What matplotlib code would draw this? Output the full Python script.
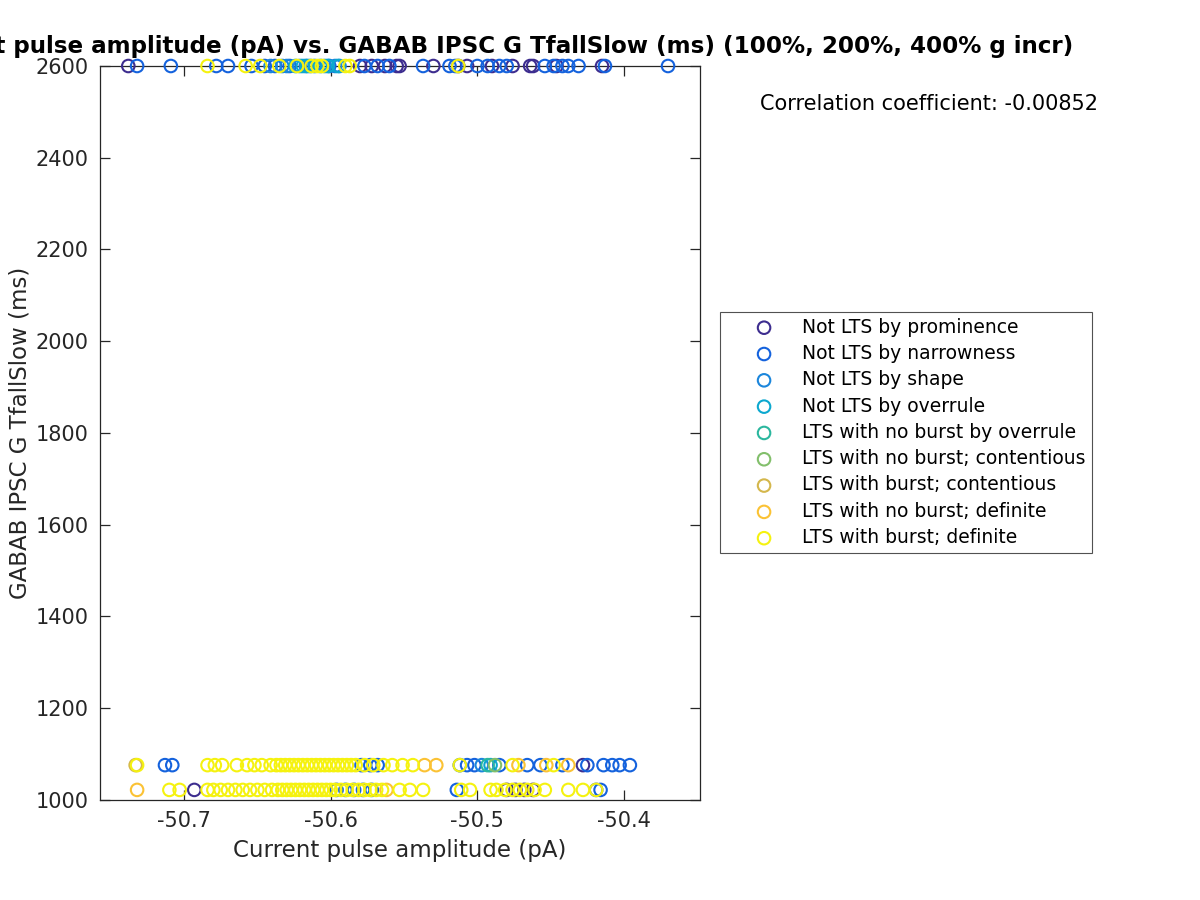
import matplotlib
matplotlib.use('Agg')
import matplotlib.pyplot as plt

# ---------------- data ----------------
Y_TOP, Y_MID, Y_LOW = 2600, 1076, 1022

labels = ['Not LTS by prominence', 'Not LTS by narrowness', 'Not LTS by shape',
          'Not LTS by overrule', 'LTS with no burst by overrule',
          'LTS with no burst; contentious', 'LTS with burst; contentious',
          'LTS with no burst; definite', 'LTS with burst; definite']
colors = ['#3d2d8f', '#1462dd', '#1b86dc', '#0ca8cf', '#2bb79e',
          '#82bf6b', '#d4b74c', '#fbc234', '#f5f20f']

prom_top = [-50.738, -50.580, -50.572, -50.563, -50.555, -50.553, -50.530, -50.513,
            -50.507, -50.490, -50.476, -50.464, -50.462, -50.446, -50.415]
prom_mid = [-50.428]
prom_low = [-50.693, -50.480, -50.474, -50.468, -50.462]

narrow_top = [-50.732, -50.709, -50.678, -50.670, -50.654, -50.645, -50.638, -50.628,
              -50.601, -50.577, -50.568, -50.560, -50.537, -50.519, -50.515, -50.500,
              -50.493, -50.485, -50.480, -50.454, -50.448, -50.442, -50.438, -50.431,
              -50.413, -50.370]
narrow_mid = [-50.713, -50.708, -50.579, -50.573, -50.568, -50.512, -50.507, -50.502,
              -50.485, -50.466, -50.457, -50.442, -50.425, -50.414, -50.408, -50.403,
              -50.396]
narrow_low = [-50.596, -50.590, -50.584, -50.578, -50.572, -50.514, -50.419, -50.416]

shape_top = [-50.641, -50.633, -50.630, -50.621, -50.617, -50.614, -50.611, -50.604,
             -50.597, -50.594]
shape_mid = [-50.497]
shape_low = []

overr_top = [-50.624, -50.619, -50.616, -50.607, -50.602, -50.595]
overr_mid = [-50.491]
overr_low = []

nbov_top = []
nbov_mid = [-50.493]
nbov_low = []

nbcont_top = []
nbcont_mid = [-50.488]
nbcont_low = []

bcont_top = []
bcont_mid = [-50.733]
bcont_low = []

nbdef_top = []
nbdef_mid = [-50.536, -50.528, -50.472, -50.453, -50.438]
nbdef_low = [-50.732, -50.562]

bdef_top = [-50.684, -50.658, -50.648, -50.635, -50.623, -50.613, -50.609, -50.606,
            -50.590, -50.587, -50.513]
bdef_mid = [-50.732, -50.684, -50.679, -50.674, -50.664, -50.657, -50.652, -50.647,
            -50.641, -50.637, -50.634, -50.631, -50.628, -50.625, -50.622, -50.619,
            -50.616, -50.613, -50.610, -50.607, -50.604, -50.601, -50.598, -50.595,
            -50.592, -50.589, -50.586, -50.583, -50.577, -50.571, -50.564, -50.558,
            -50.551, -50.544, -50.512, -50.476, -50.448]
bdef_low = [-50.710, -50.703, -50.684, -50.680, -50.675, -50.670, -50.665, -50.660,
            -50.655, -50.650, -50.645, -50.640, -50.636, -50.633, -50.630, -50.627,
            -50.624, -50.621, -50.618, -50.615, -50.612, -50.609, -50.606, -50.603,
            -50.600, -50.597, -50.593, -50.589, -50.585, -50.581, -50.577, -50.573,
            -50.569, -50.565, -50.553, -50.546, -50.537, -50.511, -50.505, -50.491,
            -50.487, -50.481, -50.476, -50.471, -50.466, -50.461, -50.454, -50.438,
            -50.428, -50.419]

groups = [
    (prom_top, prom_mid, prom_low),
    (narrow_top, narrow_mid, narrow_low),
    (shape_top, shape_mid, shape_low),
    (overr_top, overr_mid, overr_low),
    (nbov_top, nbov_mid, nbov_low),
    (nbcont_top, nbcont_mid, nbcont_low),
    (bcont_top, bcont_mid, bcont_low),
    (nbdef_top, nbdef_mid, nbdef_low),
    (bdef_top, bdef_mid, bdef_low),
]

x_ticks = [-50.7, -50.6, -50.5, -50.4]
y_ticks = [1000, 1200, 1400, 1600, 1800, 2000, 2200, 2400, 2600]
corr_text = 'Correlation coefficient: -0.00852'
title = 'Current pulse amplitude (pA) vs. GABAB IPSC G TfallSlow (ms) (100%, 200%, 400% g incr)'

# ---------------- plot ----------------
plt.rcParams['font.family'] = ['DejaVu Sans']
fig = plt.figure(figsize=(12, 9), dpi=100)
ax = fig.add_axes([100 / 1200, 100 / 900, 600 / 1200, 734 / 900])

for (top, mid, low), lab, col in zip(groups, labels, colors):
    xs = list(top) + list(mid) + list(low)
    ys = [Y_TOP] * len(top) + [Y_MID] * len(mid) + [Y_LOW] * len(low)
    ax.scatter(xs, ys, s=81, facecolors='none', edgecolors=col,
               linewidths=1.5, label=lab, clip_on=False, zorder=3)

ax.set_xlim(-50.7573, -50.3482)
ax.set_ylim(1000, 2600)
ax.set_xticks(x_ticks)
ax.set_xticklabels([f'{v:.1f}' for v in x_ticks])
ax.set_yticks(y_ticks)
dark = '#262626'
for sp in ax.spines.values():
    sp.set_color(dark)
    sp.set_linewidth(0.9)
ax.tick_params(direction='in', length=7, width=0.9, colors=dark, labelsize=15,
               top=True, right=True, pad=8)
ax.set_xlabel('Current pulse amplitude (pA)', fontsize=16.5, color=dark, labelpad=6)
ax.set_ylabel('GABAB IPSC G TfallSlow (ms)', fontsize=16.5, color=dark, labelpad=3)

# title: same size as the reference, its right end at x=1073 px (left part runs off the figure)
fig.text(1073 / 1200, 1 - 47 / 900, title, fontsize=16.55, fontweight='bold',
         color='black', ha='right', va='center')

leg = ax.legend(loc='upper left', bbox_to_anchor=(720 / 1200, 1 - 312 / 900),
                bbox_transform=fig.transFigure, fontsize=13.5, frameon=True,
                fancybox=False, edgecolor=dark, borderpad=0.3, labelspacing=0.39,
                handlelength=4.1, handletextpad=0.0, borderaxespad=0.0,
                scatterpoints=1)
leg.get_frame().set_linewidth(0.8)
for t in leg.get_texts():
    t.set_color('black')

fig.text(760 / 1200, 1 - 104 / 900, corr_text, fontsize=15, ha='left', va='center',
         color='black')

fig.savefig('out.png', dpi=100)
